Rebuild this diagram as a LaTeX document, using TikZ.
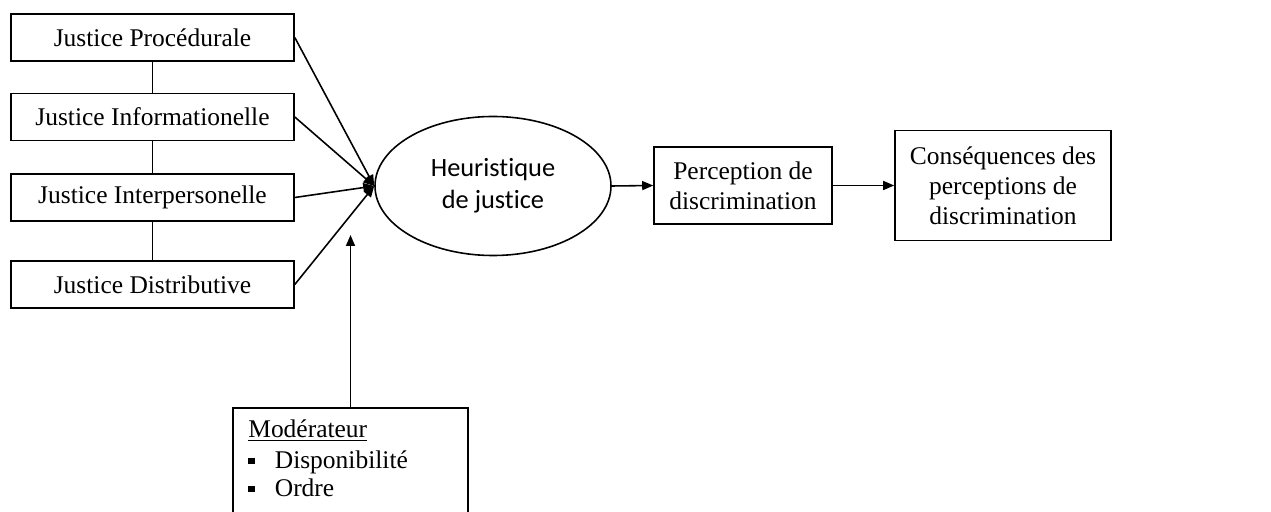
\documentclass[tikz,border=0pt]{standalone}
\usepackage{fontspec}
\setmainfont{Liberation Serif}
\newfontfamily\calibri[Ligatures=NoCommon]{Carlito}
\usepackage{tikz}
\usetikzlibrary{positioning}
\usetikzlibrary{shapes.geometric}
\usetikzlibrary{arrows.meta}

\begin{document}
\begin{tikzpicture}[x=0.2mm, y=-0.2mm,
		box/.style={draw, line width=0.9pt, align=center, inner sep=0pt, font=\fontsize{14.5}{17}\selectfont},
		link/.style={line width=0.9pt},
		arrowlink/.style={line width=0.9pt, -{Triangle[length=2.2mm, width=1.8mm]}}]
			\useasboundingbox (0, 0) rectangle (1271, 512);
			\clip (0, 0) rectangle (1271, 512);
			% justice dimensions
			\foreach \name/\y/\txt in {proc/37.5/Justice Procédurale, info/117/Justice Informationelle, inter/197.5/Justice Interpersonelle, distr/284.5/Justice Distributive}
				\node (\name) at (152.5, \y) [box, minimum width=56.6mm, minimum height=9.4mm] {\txt};
			\draw[link] (proc.south) -- (info.north);
			\draw[link] (info.south) -- (inter.north);
			\draw[link] (inter.south) -- (distr.north);
			\node (heur) at (493, 186) [draw, ellipse, line width=0.9pt, minimum width=47.2mm, minimum height=27.8mm, align=center, font=\calibri\fontsize{15}{18}\selectfont] {Heuristique\\de justice};
			\foreach \name in {proc, info, inter, distr}
				\draw[arrowlink] (\name.east) -- (heur.west);
			\node (perc) at (743, 185.5) [box, minimum width=35.6mm, minimum height=15.4mm] {Perception de\\discrimination};
			\node (cons) at (1003, 185.5) [box, minimum width=43.2mm, minimum height=22mm] {Conséquences des\\perceptions de\\discrimination};
			\draw[arrowlink] (heur.east) -- (perc.west);
			\draw[arrowlink] (perc.east) -- (cons.west);
			% moderator
			\node (mod) at (350.5, 474) [draw, line width=0.9pt, minimum width=47mm, minimum height=26.4mm] {};
			\node (modtxt) at (248, 416) [anchor=north west, inner sep=0pt, font=\fontsize{14.5}{17}\selectfont] {%
				\begin{tabular}{@{}l@{\hspace{4mm}}l@{}}
					\multicolumn{2}{@{}l}{\underline{Modérateur}}\\[1pt]
					\rule[2.7pt]{1.3mm}{1.3mm} & Disponibilité\\[-1.1pt]
					\rule[2.7pt]{1.3mm}{1.3mm} & Ordre
				\end{tabular}};
			\coordinate (modtip) at (350.5, 235);
			\draw[arrowlink] (mod.north) -- (modtip);
		\end{tikzpicture}
\end{document}
